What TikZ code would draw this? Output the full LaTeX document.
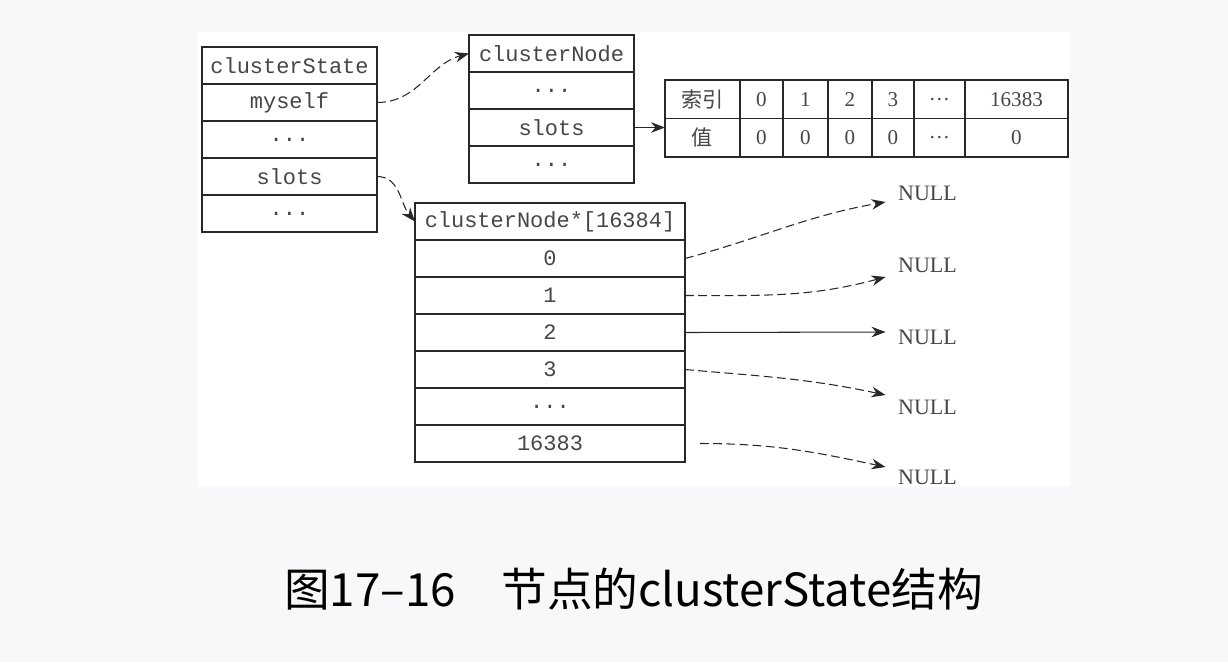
\documentclass[tikz,border=0pt]{standalone}
\usepackage{fontspec}
\setmainfont{Liberation Serif}
\setmonofont{Liberation Mono}
\newfontfamily\cjk{Noto Sans CJK SC}
\usepackage{tikz}
\usetikzlibrary{arrows.meta,positioning}
\definecolor{grisFond}{RGB}{247,248,250}
\definecolor{noirTrait}{RGB}{40,40,40}
\definecolor{grisTexte}{RGB}{70,70,70}

\begin{document}
\begin{tikzpicture}[
  champ/.style={rectangle,draw=noirTrait,line width=0.9pt,minimum width=3.5cm,minimum height=0.74cm,
                inner sep=0pt,outer sep=0pt,text=grisTexte,font=\fontsize{12.5}{14}\selectfont\ttfamily},
  cellule/.style={rectangle,draw=noirTrait,line width=0.9pt,minimum height=0.77cm,
                  inner sep=0pt,outer sep=0pt,text=grisTexte,font=\fontsize{12}{14}\selectfont},
  nul/.style={inner xsep=7pt,inner ysep=0pt,text=grisTexte,font=\fontsize{12.5}{14}\selectfont},
  fleche/.style={-{Stealth[length=8pt,width=6pt]},line width=0.6pt,draw=noirTrait},
  pointille/.style={dash pattern=on 5pt off 2.5pt}]

  \useasboundingbox (0,0) rectangle (24.56,-13.24);
  \fill[grisFond] (0,0) rectangle (24.56,-13.24);
  \fill[white] (3.96,-0.64) rectangle (21.40,-9.74);

  % clusterState
  \node[champ] (CS0) at (5.79,-1.31) {clusterState};
  \node[champ,below=0pt of CS0] (CS1) {myself};
  \node[champ,below=0pt of CS1] (CS2) {...};
  \node[champ,below=0pt of CS2] (CS3) {slots};
  \node[champ,below=0pt of CS3] (CS4) {...};

  % clusterNode
  \node[champ,minimum width=3.3cm] (CN0) at (11.03,-1.07) {clusterNode};
  \node[champ,minimum width=3.3cm,below=0pt of CN0] (CN1) {...};
  \node[champ,minimum width=3.3cm,below=0pt of CN1] (CN2) {slots};
  \node[champ,minimum width=3.3cm,below=0pt of CN2] (CN3) {...};

  % tableau des slots
  \node[cellule,minimum width=1.5cm,font=\cjk\fontsize{12}{14}\selectfont] (I0) at (14.05,-1.985) {索引};
  \node[cellule,minimum width=0.86cm,right=0pt of I0] (I1) {0};
  \node[cellule,minimum width=0.90cm,right=0pt of I1] (I2) {1};
  \node[cellule,minimum width=0.88cm,right=0pt of I2] (I3) {2};
  \node[cellule,minimum width=0.84cm,right=0pt of I3] (I4) {3};
  \node[cellule,minimum width=1.02cm,right=0pt of I4] (I5) {\ldots};
  \node[cellule,minimum width=2.06cm,right=0pt of I5] (I6) {16383};
  \node[cellule,minimum width=1.5cm,font=\cjk\fontsize{12}{14}\selectfont,below=0pt of I0] (V0) {值};
  \node[cellule,minimum width=0.86cm,below=0pt of I1] (V1) {0};
  \node[cellule,minimum width=0.90cm,below=0pt of I2] (V2) {0};
  \node[cellule,minimum width=0.88cm,below=0pt of I3] (V3) {0};
  \node[cellule,minimum width=0.84cm,below=0pt of I4] (V4) {0};
  \node[cellule,minimum width=1.02cm,below=0pt of I5] (V5) {\ldots};
  \node[cellule,minimum width=2.06cm,below=0pt of I6] (V6) {0};

  % clusterNode*[16384]
  \node[champ,minimum width=5.4cm] (A0) at (11.00,-4.43) {clusterNode*[16384]};
  \node[champ,minimum width=5.4cm,below=0pt of A0] (A1) {0};
  \node[champ,minimum width=5.4cm,below=0pt of A1] (A2) {1};
  \node[champ,minimum width=5.4cm,below=0pt of A2] (A3) {2};
  \node[champ,minimum width=5.4cm,below=0pt of A3] (A4) {3};
  \node[champ,minimum width=5.4cm,below=0pt of A4] (A5) {...};
  \node[champ,minimum width=5.4cm,below=0pt of A5] (A6) {16383};

  \node[nul] (N1) at (18.55,-3.86) {NULL};
  \node[nul] (N2) at (18.55,-5.30) {NULL};
  \node[nul] (N3) at (18.55,-6.74) {NULL};
  \node[nul] (N4) at (18.55,-8.14) {NULL};
  \node[nul] (N5) at (18.55,-9.54) {NULL};

  \draw[fleche,pointille] (CS1.east) to[out=0,in=195] (CN0.west);
  \draw[fleche,pointille] (CS3.east) to[out=0,in=130] (A0.west);
  \draw[fleche] (CN2.east) -- (CN2.east -| V0.west);

  \draw[fleche,pointille] (A1.east) to[out=15,in=190] ([yshift=-0.18cm]N1.west);
  \draw[fleche,pointille] (A2.east) to[out=0,in=195] ([yshift=-0.24cm]N2.west);
  \draw[fleche] (A3.east) -- ([yshift=0.10cm]N3.west);
  \draw[fleche,pointille] (A4.east) to[out=-5,in=168] ([yshift=0.24cm]N4.west);
  \draw[fleche,pointille] ([xshift=0.3cm]A6.east) to[out=0,in=168] ([yshift=0.2cm]N5.west);

  \node[font=\cjk\fontsize{26}{30}\selectfont,text=black] (titre) at (12.67,-11.78)
    {图17–16　节点的clusterState结构};
\end{tikzpicture}
\end{document}
